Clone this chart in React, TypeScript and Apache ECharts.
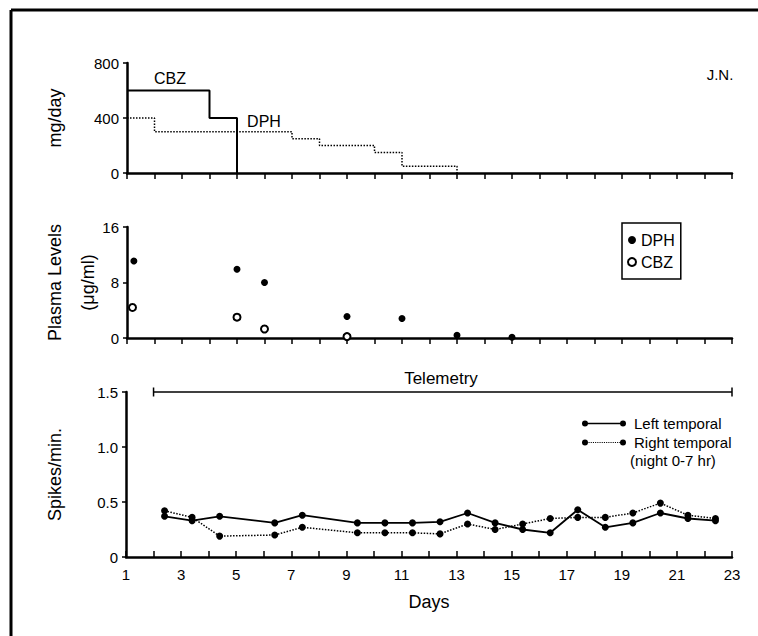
import React, { useEffect, useRef } from "react";
import * as echarts from "echarts";

// ---- Data ----
const cbzDoseDays = [1, 4, 5];
const cbzDoseValues = [600, 400, 0];
const dphDoseDays = [1, 2, 7, 8, 10, 11, 13];
const dphDoseValues = [400, 300, 250, 200, 150, 50, 0];

const plasmaDphDays = [1.25, 5, 6, 9, 11, 13, 15];
const plasmaDphValues = [11.1, 9.9, 8.0, 3.1, 2.8, 0.4, 0.1];
const plasmaCbzDays = [1.2, 5, 6, 9];
const plasmaCbzValues = [4.4, 3.0, 1.3, 0.2];

const spikeDays = [2.4, 3.4, 4.4, 6.4, 7.4, 9.4, 10.4, 11.4, 12.4, 13.4, 14.4, 15.4, 16.4, 17.4, 18.4, 19.4, 20.4, 21.4, 22.4];
const leftTemporal = [0.37, 0.33, 0.37, 0.31, 0.38, 0.31, 0.31, 0.31, 0.32, 0.40, 0.31, 0.25, 0.22, 0.43, 0.27, 0.31, 0.40, 0.35, 0.33];
const rightTemporal = [0.42, 0.36, 0.19, 0.20, 0.27, 0.22, 0.22, 0.22, 0.21, 0.30, 0.25, 0.30, 0.35, 0.36, 0.36, 0.40, 0.49, 0.38, 0.35];

const telemetryDays = [2, 23];
const telemetryLevel = [1.5, 1.5];

const dayMin = 1;
const dayMax = 23;

const zip = (xs: number[], ys: number[]) => xs.map((x, i) => [x, ys[i]]);

const FONT = '"Liberation Sans", Arial, Helvetica, sans-serif';

const circ = (cx: number) => `M${cx - 3},3 A3,3 0 1,1 ${cx + 3},3 A3,3 0 1,1 ${cx - 3},3 Z`;
const solidIcon = `path://${circ(3)} M5,2.3 L39,2.3 L39,3.7 L5,3.7 Z ${circ(41)}`;
const dottedIcon = (() => {
  let d = circ(3);
  for (let x = 6.5; x < 37.5; x += 2.2) {
    d += ` M${x.toFixed(2)},2.4 L${(x + 1.1).toFixed(2)},2.4 L${(x + 1.1).toFixed(2)},3.6 L${x.toFixed(2)},3.6 Z`;
  }
  d += " " + circ(41);
  return "path://" + d;
})();

export default function App() {
  const ref = useRef<HTMLDivElement>(null);
  useEffect(() => {
    if (!ref.current) return;
    const chart = echarts.init(ref.current, undefined, { renderer: "svg" });
    const axisLine = { show: true, lineStyle: { color: "#000", width: 2.5 } };
    const tickStyle = { color: "#000", width: 1.5 };
    const labelStyle = { color: "#000", fontSize: 15, fontFamily: FONT };
    const xBase = (gridIndex: number, showLabels: boolean, inside: boolean) => ({
      type: "value",
      gridIndex,
      min: dayMin,
      max: dayMax,
      interval: 1,
      axisLine,
      axisTick: { show: true, inside, length: 6, lineStyle: tickStyle },
      splitLine: { show: false },
      axisLabel: showLabels
        ? {
            ...labelStyle,
            margin: 10,
            formatter: (v: number) => (Math.round(v) % 2 === 1 ? String(v) : ""),
          }
        : { show: false },
    });
    const yBase = (gridIndex: number, max: number, interval: number, name: string, nameGap: number, fmt?: (v: number) => string) => ({
      type: "value",
      gridIndex,
      min: 0,
      max,
      interval,
      name,
      nameLocation: "middle",
      nameGap,
      nameRotate: 90,
      nameMoveOverlap: false,
      nameTextStyle: { color: "#000", fontSize: 18, fontFamily: FONT, lineHeight: 33 },
      axisLine,
      axisTick: { show: true, inside: false, length: 4, lineStyle: tickStyle },
      splitLine: { show: false },
      axisLabel: { ...labelStyle, margin: 8, formatter: fmt },
    });

    chart.setOption({
      animation: false,
      backgroundColor: "#fff",
      textStyle: { fontFamily: FONT },
      grid: [
        { left: 127, right: 26, top: 63, height: 110 },
        { left: 127, right: 26, top: 227, height: 111 },
        { left: 126, right: 26, top: 392, height: 165 },
      ],
      xAxis: [
        xBase(0, false, false),
        xBase(1, false, false),
        {
          ...xBase(2, true, true),
          name: "Days",
          nameLocation: "middle",
          nameGap: 36,
          nameTextStyle: { color: "#000", fontSize: 18, fontFamily: FONT },
        },
      ],
      yAxis: [
        yBase(0, 800, 400, "mg/day", 56),
        yBase(1, 16, 8, "Plasma Levels\n(μg/ml)", 23),
        yBase(2, 1.5, 0.5, "Spikes/min.", 55, (v: number) => (v === 0 ? "0" : v.toFixed(1))),
      ],
      legend: [
        {
          selectedMode: false,
          left: 622,
          top: 223,
          orient: "vertical",
          borderColor: "#000",
          borderWidth: 1.5,
          padding: [9, 6, 9, 5],
          itemWidth: 8,
          itemHeight: 8,
          itemGap: 6,
          data: [
            { name: "DPH", icon: "circle" },
            { name: "CBZ", icon: "emptyCircle" },
          ],
          textStyle: { color: "#000", fontSize: 16, fontFamily: FONT },
        },
        {
          selectedMode: false,
          left: 577,
          top: 411,
          orient: "vertical",
          itemWidth: 44,
          itemHeight: 6,
          itemGap: 4,
          itemStyle: { borderWidth: 0, color: "#000" },
          data: [
            { name: "Left temporal", icon: solidIcon },
            { name: "Right temporal", icon: dottedIcon },
          ],
          textStyle: { color: "#000", fontSize: 15, lineHeight: 15, fontFamily: FONT, padding: [0, 0, 0, 3] },
        },
      ],
      graphic: [
        { type: "line", shape: { x1: 11, y1: 10, x2: 758, y2: 10 }, style: { stroke: "#000", lineWidth: 3 } },
        { type: "line", shape: { x1: 11, y1: 10, x2: 11, y2: 636 }, style: { stroke: "#000", lineWidth: 3 } },
        { type: "text", x: 170, y: 78, style: { text: "CBZ", fill: "#000", font: `16px ${FONT}`, align: "center", verticalAlign: "middle" } },
        { type: "text", x: 264, y: 121, style: { text: "DPH", fill: "#000", font: `16px ${FONT}`, align: "center", verticalAlign: "middle" } },
        { type: "text", x: 720, y: 74, style: { text: "J.N.", fill: "#000", font: `15px ${FONT}`, align: "center", verticalAlign: "middle" } },
        { type: "text", x: 441, y: 378, style: { text: "Telemetry", fill: "#000", font: `17px ${FONT}`, align: "center", verticalAlign: "middle" } },
        { type: "text", x: 630, y: 460, style: { text: "(night 0-7 hr)", fill: "#000", font: `15px ${FONT}`, align: "left", verticalAlign: "middle" } },
      ],
      series: [
        {
          name: "CBZ dose",
          type: "line",
          xAxisIndex: 0,
          yAxisIndex: 0,
          step: "end",
          symbol: "none",
          data: zip(cbzDoseDays, cbzDoseValues),
          lineStyle: { color: "#000", width: 2 },
        },
        {
          name: "DPH dose",
          type: "line",
          xAxisIndex: 0,
          yAxisIndex: 0,
          step: "end",
          symbol: "none",
          data: zip(dphDoseDays, dphDoseValues),
          lineStyle: { color: "#000", width: 1.5, type: [1.5, 1.5] },
        },
        {
          name: "DPH",
          type: "scatter",
          xAxisIndex: 1,
          yAxisIndex: 1,
          symbol: "circle",
          symbolSize: 7,
          itemStyle: { color: "#000", opacity: 1 },
          data: zip(plasmaDphDays, plasmaDphValues),
        },
        {
          name: "CBZ",
          type: "scatter",
          xAxisIndex: 1,
          yAxisIndex: 1,
          symbol: "emptyCircle",
          symbolSize: 7,
          itemStyle: { color: "#000", borderColor: "#000", borderWidth: 2, opacity: 1 },
          data: zip(plasmaCbzDays, plasmaCbzValues),
        },
        {
          name: "Telemetry",
          type: "line",
          xAxisIndex: 2,
          yAxisIndex: 2,
          symbol: "rect",
          symbolSize: [1.5, 9],
          clip: false,
          itemStyle: { color: "#000" },
          lineStyle: { color: "#000", width: 1.5 },
          data: zip(telemetryDays, telemetryLevel),
        },
        {
          name: "Left temporal",
          type: "line",
          xAxisIndex: 2,
          yAxisIndex: 2,
          symbol: "circle",
          symbolSize: 7,
          itemStyle: { color: "#000" },
          lineStyle: { color: "#000", width: 1.8 },
          data: zip(spikeDays, leftTemporal),
        },
        {
          name: "Right temporal",
          type: "line",
          xAxisIndex: 2,
          yAxisIndex: 2,
          symbol: "circle",
          symbolSize: 7,
          itemStyle: { color: "#000" },
          lineStyle: { color: "#000", width: 1.5, type: [1.5, 1.5] },
          data: zip(spikeDays, rightTemporal),
        },
      ],
    });
    return () => chart.dispose();
  }, []);
  return (
    <div
      ref={ref}
      style={{ position: "fixed", left: 0, top: 0, width: 758, height: 636, background: "#fff" }}
    />
  );
}
